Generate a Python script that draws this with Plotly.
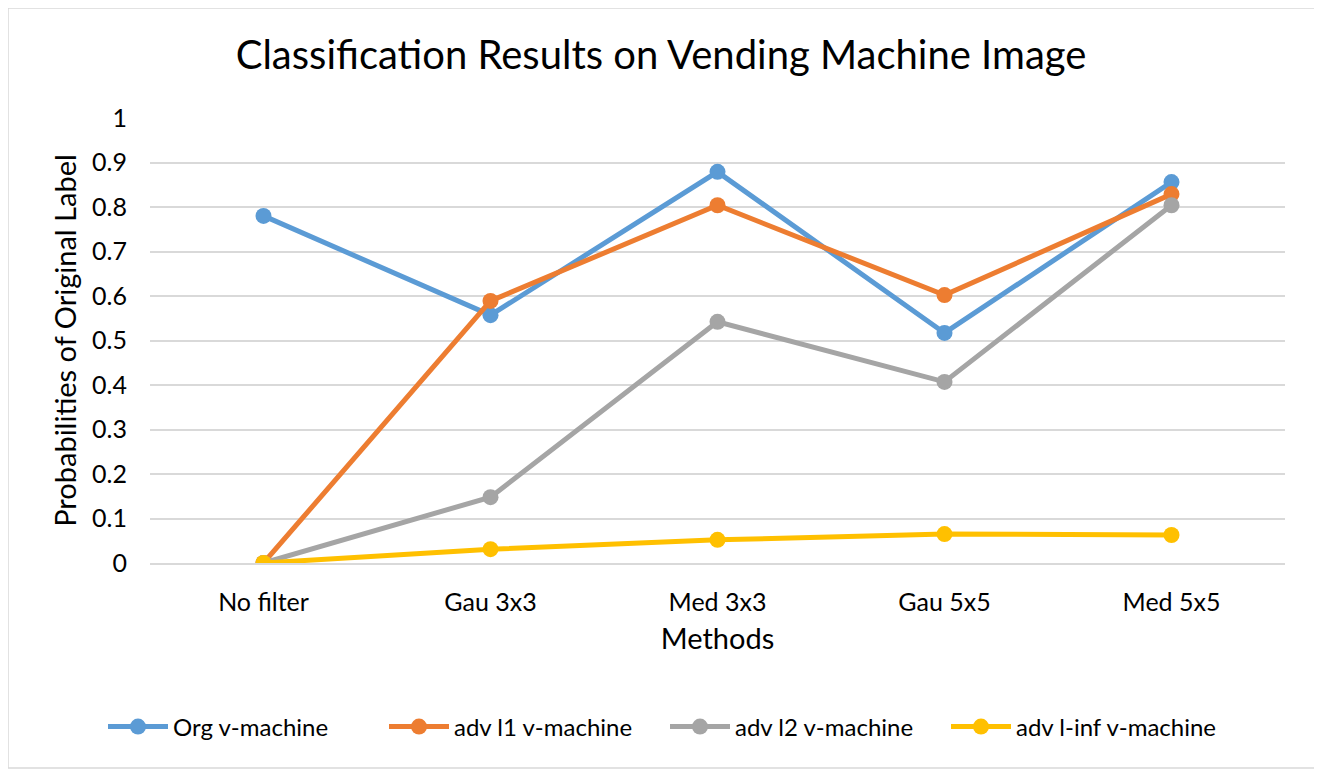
import plotly.graph_objects as go

# Data
methods = ['No filter', 'Gau 3x3', 'Med 3x3', 'Gau 5x5', 'Med 5x5']
org_v_machine = [0.780, 0.557, 0.879, 0.517, 0.856]
adv_l1_v_machine = [0.0, 0.589, 0.804, 0.602, 0.829]
adv_l2_v_machine = [0.0, 0.148, 0.542, 0.407, 0.804]
adv_linf_v_machine = [0.0, 0.031, 0.052, 0.065, 0.063]

series = [
    ('Org v-machine', org_v_machine, '#5B9BD5'),
    ('adv l1 v-machine', adv_l1_v_machine, '#ED7D31'),
    ('adv l2 v-machine', adv_l2_v_machine, '#A5A5A5'),
    ('adv l-inf v-machine', adv_linf_v_machine, '#FFC000'),
]

FONT = 'Lato, Open Sans, sans-serif'
W, H = 1314, 766

fig = go.Figure()
for name, vals, color in series:
    fig.add_trace(go.Scatter(
        x=methods, y=vals,
        mode='lines+markers',
        name=name,
        line=dict(color=color, width=5),
        marker=dict(color=color, size=16),
    ))

fig.update_layout(
    width=W, height=H,
    paper_bgcolor='white',
    plot_bgcolor='white',
    font=dict(family=FONT, color='#000000', size=25),
    title=dict(
        text='Classification Results on Vending Machine Image',
        font=dict(size=40, family=FONT),
        xref='container', yref='container',
        x=0.497, xanchor='center', y=1 - 47 / H, yanchor='middle'
    ),
    margin=dict(l=142, r=37, t=110, b=211),
    xaxis=dict(
        title=dict(text='Methods', font=dict(size=29), standoff=14),
        range=[-0.5, 4.5],
        showgrid=False,
        showline=True, linecolor='#D9D9D9', linewidth=1.5,
        ticks='', tickfont=dict(size=25),
        ticklabelstandoff=16,
        zeroline=False,
    ),
    yaxis=dict(
        title=dict(text='Probabilities of Original Label', font=dict(size=29), standoff=6),
        range=[0, 1],
        dtick=0.1,
        tickformat='~g',
        showgrid=True, gridcolor='#D9D9D9', gridwidth=1.5,
        zeroline=False,
        ticks='', tickfont=dict(size=25),
        ticklabelstandoff=22,
    ),
    legend=dict(
        orientation='h',
        xref='container', yref='container',
        x=0.5, xanchor='center',
        y=1 - 719 / H, yanchor='middle',
        font=dict(size=24),
        bgcolor='rgba(0,0,0,0)',
        entrywidth=206, entrywidthmode='pixels',
        itemwidth=60,
        tracegroupgap=0,
    ),
    shapes=[dict(
        type='rect', xref='paper', yref='paper',
        x0=-142 / 1135, x1=1 + 31 / 1135, y0=-(211 - 6) / 445, y1=1 + 110 / 445,
        line=dict(color='#D9D9D9', width=1.5), layer='below'
    )],
)

fig.write_html('out.html')
